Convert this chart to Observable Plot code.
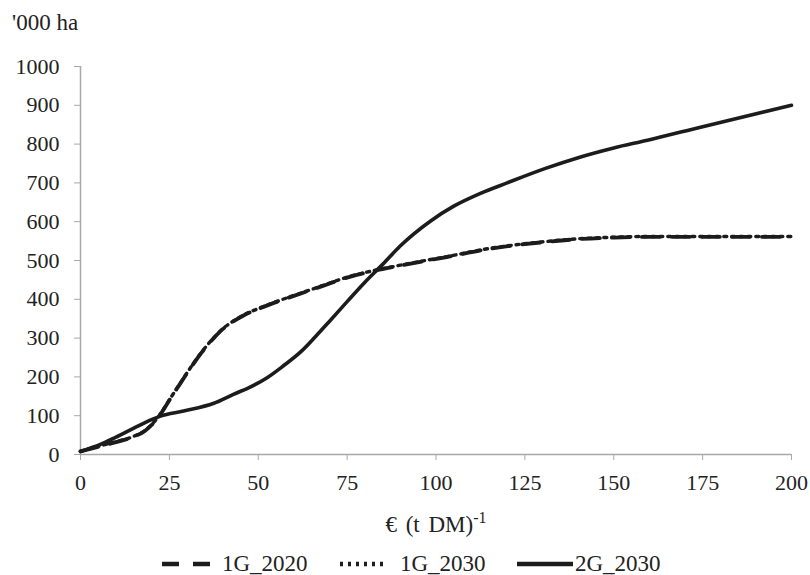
<!DOCTYPE html>
<html>
<head>
<meta charset="utf-8">
<script src="https://cdn.jsdelivr.net/npm/d3@7"></script>
<script src="https://cdn.jsdelivr.net/npm/@observablehq/plot@0.6"></script>
<style>
  html, body { margin: 0; padding: 0; background: #fff; }
  #wrap { position: relative; width: 810px; height: 575px; font-family: "Liberation Serif", "Times New Roman", serif; color: #222; }
  #ytitle { position: absolute; left: 12px; top: 11px; font-size: 23px; line-height: 1; }
  #chart { position: absolute; left: 0; top: 40px; }
  #xtitle { position: absolute; left: 0; width: 872px; top: 510px; text-align: center; font-size: 23px; line-height: 1; word-spacing: 3px; }
  #xtitle sup { font-size: 16px; }
  .item { position: absolute; top: 552px; display: flex; align-items: center; font-size: 23px; line-height: 1; }
</style>
</head>
<body>
<div id="wrap">
  <div id="ytitle">'000 ha</div>
  <div id="chart"></div>
  <div id="xtitle">€ (t DM)<sup>-1</sup></div>
</div>
<script>
// Data
const seriesNames = ["1G_2020", "1G_2030", "2G_2030"];
const xTicks = [0, 25, 50, 75, 100, 125, 150, 175, 200];
const yTicks = [0, 100, 200, 300, 400, 500, 600, 700, 800, 900, 1000];

const x1G2020 = [0, 5, 10, 15, 18, 20, 22.5, 25, 28, 30, 34, 37.5, 40, 43, 46, 50, 56, 62, 68, 75, 82, 90, 103, 115, 131, 140, 150, 160, 175, 200];
const y1G2020 = [8, 20, 32, 46, 60, 76, 104, 140, 182, 210, 262, 300, 323, 343, 359, 375, 396, 415, 434, 456, 472, 487, 509, 530, 548, 555, 559, 561, 561, 561];

const x1G2030 = [0, 5, 10, 15, 18, 20, 22.5, 25, 28, 30, 34, 37.5, 40, 43, 46, 50, 56, 62, 68, 75, 82, 90, 103, 115, 131, 140, 150, 160, 175, 200];
const y1G2030 = [8, 21, 33, 47, 61, 77, 105, 141, 183, 211, 263, 301, 324, 344, 360, 376, 397, 416, 435, 457, 473, 488, 510, 531, 549, 556, 560, 562, 562, 562];

const x2G2030 = [0, 5.6, 10, 15, 20, 22.5, 29, 37.5, 43, 48, 52.5, 57, 62, 66, 70, 75, 80, 85, 90, 98.5, 105, 112.5, 120, 131, 140, 150, 159.5, 175, 200];
const y2G2030 = [8, 26, 45, 68, 90, 99, 112, 132, 155, 175, 198, 228, 265, 303, 343, 394, 444, 490, 538, 602, 640, 673, 700, 738, 765, 790, 810, 845, 900];

const toRows = (xs, ys) => xs.map((x, i) => ({x, y: ys[i]}));
const d2020 = toRows(x1G2020, y1G2020);
const d2030 = toRows(x1G2030, y1G2030);
const d2G = toRows(x2G2030, y2G2030);

const ink = "#1c1c1c";
const axisGray = "#a8a8a8";
const serif = "'Liberation Serif', 'Times New Roman', serif";

const plot = Plot.plot({
  width: 810,
  height: 460,
  marginLeft: 80,
  marginRight: 19,
  marginTop: 26,
  marginBottom: 46,
  style: { fontFamily: serif, fontSize: "22px", color: "#222", background: "transparent" },
  x: { domain: [0, 200] },
  y: { domain: [0, 1000] },
  marks: [
    Plot.ruleY([0], { stroke: axisGray, strokeWidth: 1.5 }),
    Plot.ruleX([0], { stroke: axisGray, strokeWidth: 1.5 }),
    Plot.axisX({ ticks: xTicks, tickSize: 6, tickPadding: 14, stroke: axisGray, fill: "#222", label: null, tickFormat: d => String(d), fontFamily: serif, fontSize: 22 }),
    Plot.axisY({ ticks: yTicks, tickSize: 6, tickPadding: 15, stroke: axisGray, fill: "#222", label: null, tickFormat: d => String(d), fontFamily: serif, fontSize: 22 }),
    Plot.line(d2G, { x: "x", y: "y", stroke: ink, strokeWidth: 3.6, curve: "monotone-x" }),
    Plot.line(d2020, { x: "x", y: "y", stroke: ink, strokeWidth: 3.8, strokeDasharray: "18,12", curve: "monotone-x" }),
    Plot.line(d2030, { x: "x", y: "y", stroke: ink, strokeWidth: 3.4, strokeDasharray: "3,5", curve: "monotone-x" })
  ]
});
document.getElementById("chart").appendChild(plot);

// Legend (HTML, below the chart)
const legendLeft = [162, 340, 517];
const dashes = ["17,14", "3,5", null];
const widths = [48, 48, 56];
const gaps = [12, 12, 2];
const wrap = d3.select("#wrap");
seriesNames.forEach((name, i) => {
  const item = wrap.append("div").attr("class", "item").style("left", legendLeft[i] + "px");
  const svg = item.append("svg").attr("width", widths[i]).attr("height", 10).style("margin-right", gaps[i] + "px");
  svg.append("line")
    .attr("x1", 0).attr("x2", widths[i]).attr("y1", 5).attr("y2", 5)
    .attr("stroke", ink).attr("stroke-width", 4.5)
    .attr("stroke-dasharray", dashes[i]);
  item.append("span").text(name);
});
</script>
</body>
</html>
